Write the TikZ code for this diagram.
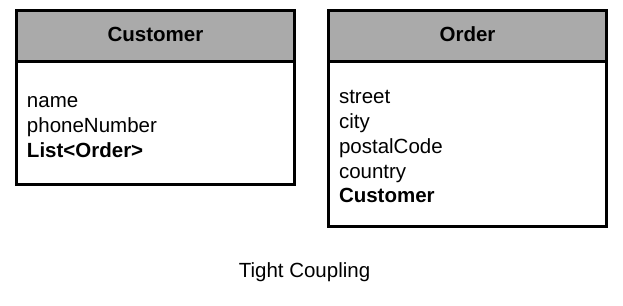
\documentclass[tikz,border=0pt]{standalone}
\usepackage{fontspec}
\setmainfont{Liberation Sans}
\usepackage{xcolor}
\usetikzlibrary{positioning}

\definecolor{headgray}{HTML}{AAAAAA}

\begin{document}
\begin{tikzpicture}[
  x=1pt, y=1pt,
  every node/.style={font=\fontsize{20.5}{24.7}\selectfont},
  head/.style={draw, line width=3pt, outer sep=0pt, fill=headgray, text depth=4pt,
    minimum width=278pt, minimum height=51pt, font=\fontsize{20.5}{24.7}\selectfont\bfseries},
  body/.style={draw, line width=3pt, outer sep=0pt, fill=white,
    minimum width=278pt, minimum height=#1, text width=257pt, align=left}
]
\useasboundingbox (0,0) rectangle (623,305);

% left class
\node[head] (custhead) at (155.5, 269) {Customer};
\node[body=123pt, below=0pt of custhead] (custbody) {\rule{0pt}{19pt}name\\phoneNumber\\\textbf{List<Order>}};

% right class
\node[head] (ordhead) at (467.5, 269) {Order};
\node[body=165pt, below=0pt of ordhead] (ordbody) {\rule{0pt}{19pt}street\\city\\postalCode\\country\\\textbf{Customer}};

\node (caption) at (304.5, 33) {Tight Coupling};
\end{tikzpicture}
\end{document}
